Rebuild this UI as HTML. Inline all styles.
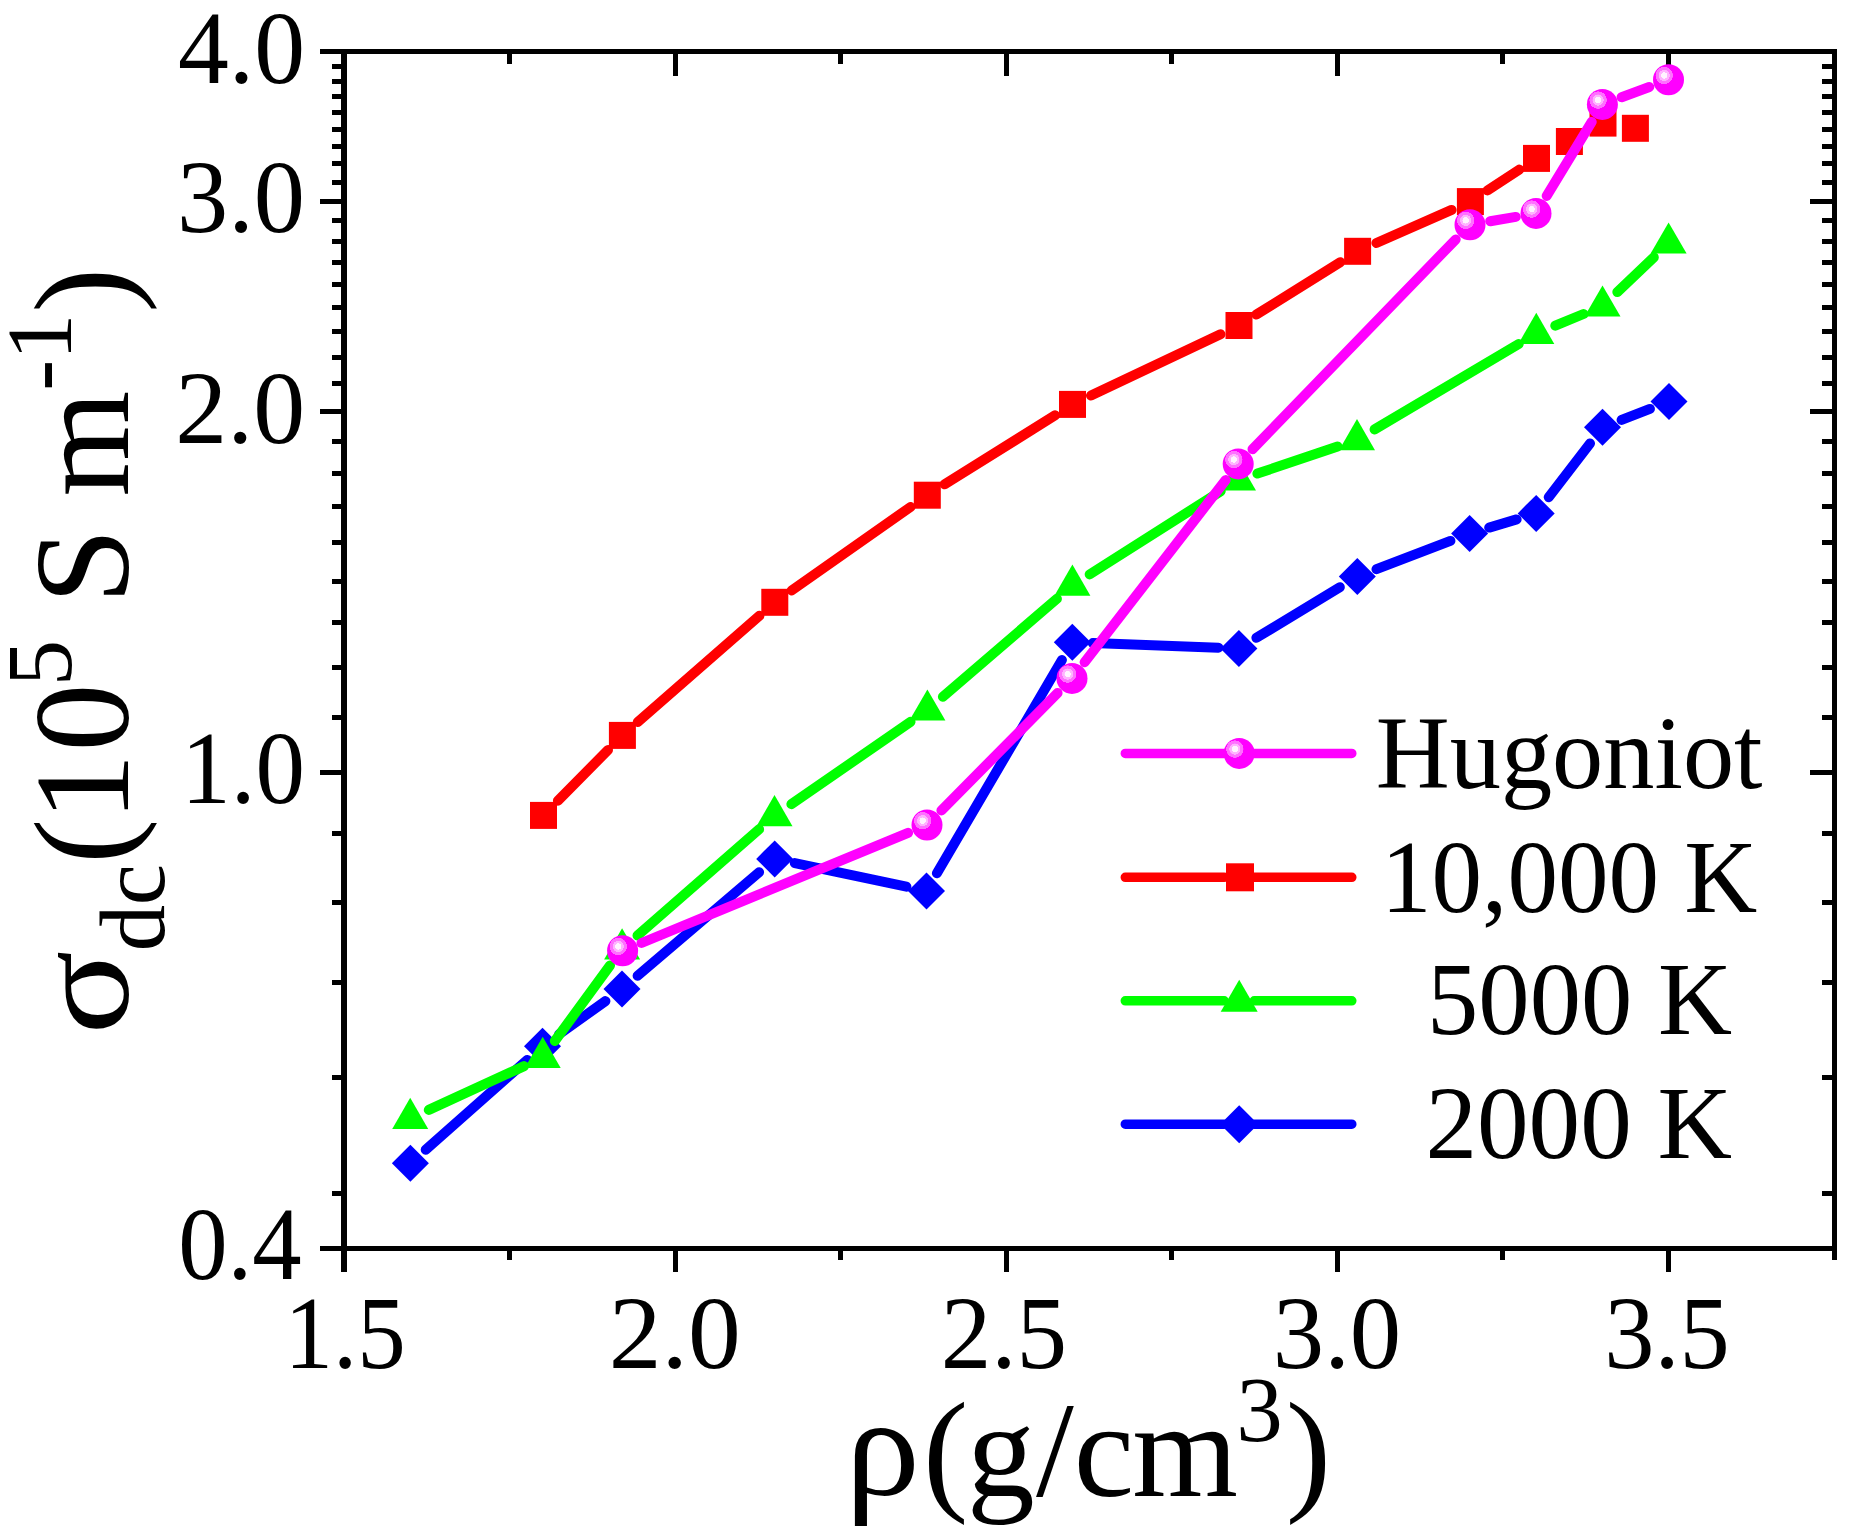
<!DOCTYPE html><html><head><meta charset="utf-8"><style>html,body{margin:0;padding:0;background:#fff;}svg{display:block;}</style></head><body><svg width="1852" height="1536" viewBox="0 0 1852 1536"><defs><radialGradient id="ball" cx="0.36" cy="0.36" r="0.55" fx="0.36" fy="0.36"><stop offset="0" stop-color="#fff4ff"/><stop offset="0.18" stop-color="#fff4ff"/><stop offset="0.19" stop-color="#ffb3ff"/><stop offset="0.32" stop-color="#ffb3ff"/><stop offset="0.33" stop-color="#ff70ff"/><stop offset="0.50" stop-color="#ff70ff"/><stop offset="0.51" stop-color="#ff00ff"/><stop offset="1" stop-color="#ff00ff"/></radialGradient></defs><rect x="0" y="0" width="1852" height="1536" fill="#fff"/><g fill="#000" shape-rendering="crispEdges"><rect x="341.0" y="49.0" width="6.0" height="1202.0"/><rect x="1832.0" y="49.0" width="5.0" height="1202.0"/><rect x="341.0" y="49.0" width="1496.0" height="5.0"/><rect x="341.0" y="1246.0" width="1496.0" height="5.0"/><rect x="320.0" y="1246.0" width="21.0" height="5.0"/><rect x="1810.0" y="1246.0" width="22.0" height="5.0"/><rect x="320.0" y="769.7" width="21.0" height="5.0"/><rect x="1810.0" y="769.7" width="22.0" height="5.0"/><rect x="320.0" y="409.3" width="21.0" height="5.0"/><rect x="1810.0" y="409.3" width="22.0" height="5.0"/><rect x="320.0" y="198.6" width="21.0" height="5.0"/><rect x="1810.0" y="198.6" width="22.0" height="5.0"/><rect x="320.0" y="49.0" width="21.0" height="5.0"/><rect x="1810.0" y="49.0" width="22.0" height="5.0"/><rect x="332.0" y="1191.2" width="9.0" height="5.0"/><rect x="1822.0" y="1191.2" width="10.0" height="5.0"/><rect x="332.0" y="1075.2" width="9.0" height="5.0"/><rect x="1822.0" y="1075.2" width="10.0" height="5.0"/><rect x="332.0" y="980.4" width="9.0" height="5.0"/><rect x="1822.0" y="980.4" width="10.0" height="5.0"/><rect x="332.0" y="900.3" width="9.0" height="5.0"/><rect x="1822.0" y="900.3" width="10.0" height="5.0"/><rect x="332.0" y="830.9" width="9.0" height="5.0"/><rect x="1822.0" y="830.9" width="10.0" height="5.0"/><rect x="332.0" y="714.9" width="9.0" height="5.0"/><rect x="1822.0" y="714.9" width="10.0" height="5.0"/><rect x="332.0" y="665.3" width="9.0" height="5.0"/><rect x="1822.0" y="665.3" width="10.0" height="5.0"/><rect x="332.0" y="620.1" width="9.0" height="5.0"/><rect x="1822.0" y="620.1" width="10.0" height="5.0"/><rect x="332.0" y="578.5" width="9.0" height="5.0"/><rect x="1822.0" y="578.5" width="10.0" height="5.0"/><rect x="332.0" y="540.0" width="9.0" height="5.0"/><rect x="1822.0" y="540.0" width="10.0" height="5.0"/><rect x="332.0" y="504.1" width="9.0" height="5.0"/><rect x="1822.0" y="504.1" width="10.0" height="5.0"/><rect x="332.0" y="470.6" width="9.0" height="5.0"/><rect x="1822.0" y="470.6" width="10.0" height="5.0"/><rect x="332.0" y="439.0" width="9.0" height="5.0"/><rect x="1822.0" y="439.0" width="10.0" height="5.0"/><rect x="332.0" y="381.2" width="9.0" height="5.0"/><rect x="1822.0" y="381.2" width="10.0" height="5.0"/><rect x="332.0" y="354.6" width="9.0" height="5.0"/><rect x="1822.0" y="354.6" width="10.0" height="5.0"/><rect x="332.0" y="329.2" width="9.0" height="5.0"/><rect x="1822.0" y="329.2" width="10.0" height="5.0"/><rect x="332.0" y="305.0" width="9.0" height="5.0"/><rect x="1822.0" y="305.0" width="10.0" height="5.0"/><rect x="332.0" y="281.9" width="9.0" height="5.0"/><rect x="1822.0" y="281.9" width="10.0" height="5.0"/><rect x="332.0" y="259.8" width="9.0" height="5.0"/><rect x="1822.0" y="259.8" width="10.0" height="5.0"/><rect x="332.0" y="238.6" width="9.0" height="5.0"/><rect x="1822.0" y="238.6" width="10.0" height="5.0"/><rect x="332.0" y="218.2" width="9.0" height="5.0"/><rect x="1822.0" y="218.2" width="10.0" height="5.0"/><rect x="332.0" y="179.6" width="9.0" height="5.0"/><rect x="1822.0" y="179.6" width="10.0" height="5.0"/><rect x="332.0" y="161.4" width="9.0" height="5.0"/><rect x="1822.0" y="161.4" width="10.0" height="5.0"/><rect x="332.0" y="143.8" width="9.0" height="5.0"/><rect x="1822.0" y="143.8" width="10.0" height="5.0"/><rect x="332.0" y="126.7" width="9.0" height="5.0"/><rect x="1822.0" y="126.7" width="10.0" height="5.0"/><rect x="332.0" y="110.2" width="9.0" height="5.0"/><rect x="1822.0" y="110.2" width="10.0" height="5.0"/><rect x="332.0" y="94.2" width="9.0" height="5.0"/><rect x="1822.0" y="94.2" width="10.0" height="5.0"/><rect x="332.0" y="78.7" width="9.0" height="5.0"/><rect x="1822.0" y="78.7" width="10.0" height="5.0"/><rect x="332.0" y="63.6" width="9.0" height="5.0"/><rect x="1822.0" y="63.6" width="10.0" height="5.0"/><rect x="341.0" y="1251.0" width="6.0" height="21.0"/><rect x="341.5" y="54.0" width="5.0" height="22.0"/><rect x="507.1" y="1251.0" width="5.0" height="9.0"/><rect x="507.1" y="54.0" width="5.0" height="9.6"/><rect x="672.6" y="1251.0" width="5.0" height="21.0"/><rect x="672.6" y="54.0" width="5.0" height="22.0"/><rect x="838.2" y="1251.0" width="5.0" height="9.0"/><rect x="838.2" y="54.0" width="5.0" height="9.6"/><rect x="1003.7" y="1251.0" width="5.0" height="21.0"/><rect x="1003.7" y="54.0" width="5.0" height="22.0"/><rect x="1169.2" y="1251.0" width="5.0" height="9.0"/><rect x="1169.2" y="54.0" width="5.0" height="9.6"/><rect x="1334.8" y="1251.0" width="5.0" height="21.0"/><rect x="1334.8" y="54.0" width="5.0" height="22.0"/><rect x="1500.4" y="1251.0" width="5.0" height="9.0"/><rect x="1500.4" y="54.0" width="5.0" height="9.6"/><rect x="1665.9" y="1251.0" width="5.0" height="21.0"/><rect x="1665.9" y="54.0" width="5.0" height="22.0"/><rect x="1831.5" y="1251.0" width="5.0" height="9.0"/><rect x="1831.5" y="54.0" width="5.0" height="9.6"/></g><g font-family="Liberation Serif, Times New Roman, serif" fill="#000"><text x="177.91" y="83.10" font-size="104" textLength="127.06" lengthAdjust="spacingAndGlyphs">4.0</text><text x="177.00" y="232.10" font-size="104" textLength="128.00" lengthAdjust="spacingAndGlyphs">3.0</text><text x="175.34" y="443.10" font-size="104" textLength="129.71" lengthAdjust="spacingAndGlyphs">2.0</text><text x="181.20" y="803.10" font-size="104" textLength="123.66" lengthAdjust="spacingAndGlyphs">1.0</text><text x="178.14" y="1278.80" font-size="104" textLength="123.40" lengthAdjust="spacingAndGlyphs">0.4</text><text x="284.58" y="1368.00" font-size="104" textLength="121.21" lengthAdjust="spacingAndGlyphs">1.5</text><text x="608.76" y="1368.00" font-size="104" textLength="131.96" lengthAdjust="spacingAndGlyphs">2.0</text><text x="940.66" y="1368.00" font-size="104" textLength="126.39" lengthAdjust="spacingAndGlyphs">2.5</text><text x="1272.78" y="1368.00" font-size="104" textLength="128.43" lengthAdjust="spacingAndGlyphs">3.0</text><text x="1604.19" y="1368.00" font-size="104" textLength="125.53" lengthAdjust="spacingAndGlyphs">3.5</text></g><text font-family="Liberation Serif, Times New Roman, serif" y="1495.6" fill="#000"><tspan x="923.06" font-size="136">(</tspan><tspan x="966.77" font-size="136">g</tspan><tspan x="1036.11" font-size="136">/</tspan><tspan x="1073.77" font-size="136">c</tspan><tspan x="1132.24" font-size="136">m</tspan></text><text font-family="Liberation Serif, Times New Roman, serif" font-size="136" fill="#000" transform="translate(845.35,1494.6) scale(1.1010,1.0564)">ρ</text><text font-family="Liberation Serif, Times New Roman, serif" y="1441.1" fill="#000"><tspan x="1236.34" font-size="93">3</tspan></text><text font-family="Liberation Serif, Times New Roman, serif" y="1495.6" fill="#000"><tspan x="1285.65" font-size="136">)</tspan></text><g transform="rotate(-90)" fill="#000" font-family="Liberation Serif, Times New Roman, serif"><text y="128.4"><tspan x="-863.94" font-size="136">(</tspan><tspan x="-821.24" font-size="136">1</tspan><tspan x="-751.60" font-size="136">0</tspan><tspan x="-603.90" font-size="136">S</tspan><tspan x="-496.56" font-size="136">m</tspan><tspan x="-313.10" font-size="136">)</tspan></text><text y="71.0"><tspan x="-686.24" font-size="93">5</tspan><tspan x="-390.78" font-size="93">-</tspan><tspan x="-360.29" font-size="93">1</tspan></text><text y="163.9"><tspan x="-951.36" font-size="93">d</tspan><tspan x="-905.23" font-size="93">c</tspan></text><text y="128.4" font-size="136" transform="translate(-1034.87,0) scale(1.1517,1)">σ</text></g><path d="M425.7,1149.7L527.2,1059.9M559.1,1034.3L605.4,1001.1M637.6,975.8L759.1,872.2M794.8,863.1L906.4,886.7M936.9,873.2L1061.9,660.0M1092.8,643.1L1218.4,647.7M1256.4,637.8L1339.8,587.2M1376.5,569.2L1450.4,540.9M1489.2,527.6L1516.6,519.4M1548.7,497.2L1590.0,443.5M1621.6,419.9L1649.9,408.9" stroke="#0000ff" stroke-width="10" stroke-linecap="round" fill="none"/><path d="M410.4,1144.8L428.9,1163.3L410.4,1181.8L391.9,1163.3Z" fill="#0000ff"/><path d="M542.5,1027.8L561.0,1046.3L542.5,1064.8L524.0,1046.3Z" fill="#0000ff"/><path d="M622.0,970.6L640.5,989.1L622.0,1007.6L603.5,989.1Z" fill="#0000ff"/><path d="M774.7,840.4L793.2,858.9L774.7,877.4L756.2,858.9Z" fill="#0000ff"/><path d="M926.5,872.4L945.0,890.9L926.5,909.4L908.0,890.9Z" fill="#0000ff"/><path d="M1072.3,623.8L1090.8,642.3L1072.3,660.8L1053.8,642.3Z" fill="#0000ff"/><path d="M1238.9,630.0L1257.4,648.5L1238.9,667.0L1220.4,648.5Z" fill="#0000ff"/><path d="M1357.3,558.0L1375.8,576.5L1357.3,595.0L1338.8,576.5Z" fill="#0000ff"/><path d="M1469.6,515.1L1488.1,533.6L1469.6,552.1L1451.1,533.6Z" fill="#0000ff"/><path d="M1536.2,494.9L1554.7,513.4L1536.2,531.9L1517.7,513.4Z" fill="#0000ff"/><path d="M1602.5,408.8L1621.0,427.3L1602.5,445.8L1584.0,427.3Z" fill="#0000ff"/><path d="M1669.0,383.0L1687.5,401.5L1669.0,420.0L1650.5,401.5Z" fill="#0000ff"/><path d="M428.8,1109.9L524.1,1066.1M554.8,1041.0L610.0,965.5M637.5,935.5L759.1,829.3M791.4,804.2L910.5,721.8M942.9,696.8L1056.9,598.8M1089.7,574.4L1220.7,491.2M1257.4,473.6L1337.6,446.5M1374.6,429.4L1518.7,344.0M1555.3,325.7L1583.5,314.0M1617.3,292.1L1653.8,257.3" stroke="#00ff00" stroke-width="10" stroke-linecap="round" fill="none"/><path d="M410.2,1097.7L428.2,1128.9L392.2,1128.9Z" fill="#00ff00"/><path d="M542.7,1036.7L560.7,1067.9L524.7,1067.9Z" fill="#00ff00"/><path d="M622.1,928.2L640.1,959.4L604.1,959.4Z" fill="#00ff00"/><path d="M774.5,795.0L792.5,826.2L756.5,826.2Z" fill="#00ff00"/><path d="M927.4,689.4L945.4,720.6L909.4,720.6Z" fill="#00ff00"/><path d="M1072.4,564.6L1090.4,595.8L1054.4,595.8Z" fill="#00ff00"/><path d="M1238.0,459.4L1256.0,490.6L1220.0,490.6Z" fill="#00ff00"/><path d="M1357.0,419.1L1375.0,450.3L1339.0,450.3Z" fill="#00ff00"/><path d="M1536.3,312.7L1554.3,343.9L1518.3,343.9Z" fill="#00ff00"/><path d="M1602.5,285.4L1620.5,316.6L1584.5,316.6Z" fill="#00ff00"/><path d="M1668.6,222.4L1686.6,253.6L1650.6,253.6Z" fill="#00ff00"/><path d="M557.9,800.8L608.0,750.0M637.8,721.9L759.4,615.8M791.6,590.5L910.5,507.0M944.7,484.3L1055.1,415.3M1091.0,395.6L1220.5,334.3M1256.4,314.6L1340.2,262.2M1376.4,243.0L1451.6,209.9M1487.6,190.4L1519.3,169.6" stroke="#ff0000" stroke-width="10" stroke-linecap="round" fill="none"/><rect x="530.0" y="801.9" width="27" height="27" fill="#ff0000"/><rect x="608.9" y="721.9" width="27" height="27" fill="#ff0000"/><rect x="761.3" y="588.8" width="27" height="27" fill="#ff0000"/><rect x="913.8" y="481.7" width="27" height="27" fill="#ff0000"/><rect x="1059.0" y="390.9" width="27" height="27" fill="#ff0000"/><rect x="1225.5" y="312.0" width="27" height="27" fill="#ff0000"/><rect x="1344.1" y="237.8" width="27" height="27" fill="#ff0000"/><rect x="1456.9" y="188.1" width="27" height="27" fill="#ff0000"/><rect x="1523.0" y="144.9" width="27" height="27" fill="#ff0000"/><rect x="1555.9" y="128.0" width="27" height="27" fill="#ff0000"/><rect x="1589.5" y="109.6" width="27" height="27" fill="#ff0000"/><rect x="1621.9" y="114.8" width="27" height="27" fill="#ff0000"/><path d="M641.5,943.0L908.1,832.8M941.4,810.4L1057.6,693.0M1084.6,662.2L1225.6,480.1M1252.5,449.2L1455.7,239.4M1490.2,221.2L1515.8,216.9M1546.7,195.9L1591.7,121.9M1621.6,97.2L1649.3,87.0" stroke="#ff00ff" stroke-width="10" stroke-linecap="round" fill="none"/><circle cx="622.6" cy="950.8" r="15.5" fill="url(#ball)"/><circle cx="927.0" cy="825.0" r="15.5" fill="url(#ball)"/><circle cx="1072.0" cy="678.4" r="15.5" fill="url(#ball)"/><circle cx="1238.2" cy="463.9" r="15.5" fill="url(#ball)"/><circle cx="1470.0" cy="224.7" r="15.5" fill="url(#ball)"/><circle cx="1536.0" cy="213.4" r="15.5" fill="url(#ball)"/><circle cx="1602.4" cy="104.4" r="15.5" fill="url(#ball)"/><circle cx="1668.5" cy="79.8" r="15.5" fill="url(#ball)"/><path d="M1125.3,753.4L1224.2,753.4M1254.2,753.4L1351.8,753.4" stroke="#ff00ff" stroke-width="9.5" stroke-linecap="round" fill="none"/><path d="M1125.3,877.3L1224.2,877.3M1254.2,877.3L1351.8,877.3" stroke="#ff0000" stroke-width="9.5" stroke-linecap="round" fill="none"/><path d="M1125.3,1000.8L1224.2,1000.8M1254.2,1000.8L1351.8,1000.8" stroke="#00ff00" stroke-width="9.5" stroke-linecap="round" fill="none"/><path d="M1125.3,1124.2L1224.2,1124.2M1254.2,1124.2L1351.8,1124.2" stroke="#0000ff" stroke-width="9.5" stroke-linecap="round" fill="none"/><circle cx="1239.2" cy="753.4" r="15.5" fill="url(#ball)"/><rect x="1226.0" y="863.3" width="28" height="28" fill="#ff0000"/><path d="M1239.2,979.7L1257.7,1011.8L1220.7,1011.8Z" fill="#00ff00"/><path d="M1239.2,1105.2L1258.2,1124.2L1239.2,1143.2L1220.2,1124.2Z" fill="#0000ff"/><g font-family="Liberation Serif, Times New Roman, serif" fill="#000"><text x="1375.85" y="787.80" font-size="103.5" textLength="386.65" lengthAdjust="spacingAndGlyphs">Hugoniot</text><text x="1381.01" y="911.90" font-size="103.5" textLength="376.32" lengthAdjust="spacingAndGlyphs">10,000 K</text><text x="1427.04" y="1034.30" font-size="103.5" textLength="305.02" lengthAdjust="spacingAndGlyphs">5000 K</text><text x="1425.47" y="1158.30" font-size="103.5" textLength="306.59" lengthAdjust="spacingAndGlyphs">2000 K</text></g></svg></body></html>
